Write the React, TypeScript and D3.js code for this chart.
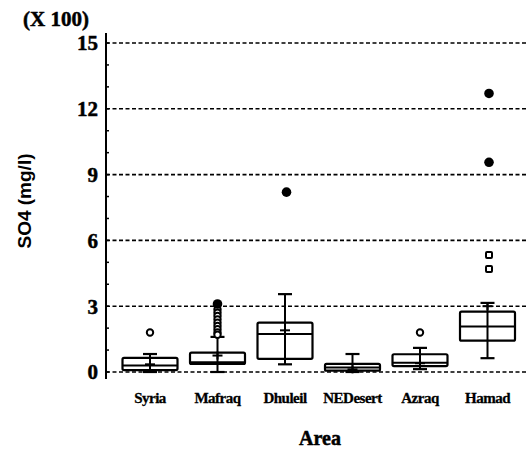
import React from "react";
import * as d3 from "d3";

const categories = ["Syria", "Mafraq", "Dhuleil", "NEDesert", "Azraq", "Hamad"];
const whiskerLow = [0.0, 0.0, 0.35, 0.0, 0.13, 0.63];
const q1 = [0.09, 0.37, 0.6, 0.06, 0.27, 1.43];
const median = [0.3, 0.45, 1.73, 0.2, 0.42, 2.07];
const q3 = [0.64, 0.88, 2.25, 0.37, 0.81, 2.75];
const whiskerHigh = [0.82, 1.6, 3.55, 0.82, 1.1, 3.15];
const means = [0.35, 0.75, 1.9, 0.12, 0.4, 3.0];
const openOutliers = [
  [1.8],
  [2.85, 2.7, 2.55, 2.4, 2.25, 2.1, 1.95, 1.8, 1.7],
  [],
  [],
  [1.8],
  [5.34, 4.7],
];
const farOutliers = [[], [3.1], [8.2], [], [], [12.7, 9.56]];
const yTicks = [0, 3, 6, 9, 12, 15];

const W = 528;
const H = 449;
const axisX = 106;

export default function App() {
  const y = d3.scaleLinear().domain([0, 15]).range([372, 43]);
  const x2 = d3.scalePoint().domain(categories).range([150, 487.5]);
  const bw = 55;
  const minor = d3.range(0, 16, 1);
  const serif = "'Liberation Serif', 'Times New Roman', serif";
  const sans = "'Liberation Sans', Arial, sans-serif";
  const heavy = { stroke: "#000", strokeWidth: 0.5 };
  return (
    <svg width={W} height={H} style={{ position: "absolute", left: 0, top: 0, background: "#fff" }}>
      <rect width={W} height={H} fill="#fff" />
      {yTicks.map((t) => (
        <line key={"g" + t} x1={axisX} x2={W} y1={y(t)} y2={y(t)} stroke="#000" strokeWidth={1.6} strokeDasharray="4,2.5" />
      ))}
      <line x1={axisX} x2={axisX} y1={33} y2={379} stroke="#000" strokeWidth={2} />
      {minor.map((t) => (
        <line key={"m" + t} x1={axisX} x2={axisX + 3} y1={y(t)} y2={y(t)} stroke="#000" strokeWidth={1.5} />
      ))}
      {yTicks.map((t) => (
        <text key={"t" + t} x={98} y={y(t)} dy="0.35em" textAnchor="end" fontFamily={serif} fontWeight="bold" fontSize={21} {...heavy}>
          {t}
        </text>
      ))}
      <text x={23} y={26} fontFamily={serif} fontWeight="bold" fontSize={21} {...heavy}>(X 100)</text>
      <text transform={`translate(31,201) rotate(-90)`} textAnchor="middle" fontFamily={sans} fontWeight="bold" fontSize={19}>
        SO4 (mg/l)
      </text>
      {categories.map((c, i) => {
        const cx = x2(c) as number;
        return (
          <g key={c}>
            <line x1={cx} x2={cx} y1={y(whiskerLow[i])} y2={y(whiskerHigh[i])} stroke="#000" strokeWidth={2} />
            <rect x={cx - bw / 2} y={y(q3[i])} width={bw} height={y(q1[i]) - y(q3[i])} fill="#fff" stroke="#000" strokeWidth={2.2} rx={1.5} />
            <line x1={cx} x2={cx} y1={y(q1[i])} y2={y(q3[i])} stroke="#000" strokeWidth={2} />
            <line x1={cx - bw / 2} x2={cx + bw / 2} y1={y(median[i])} y2={y(median[i])} stroke="#000" strokeWidth={2} />
            <line x1={cx - 7} x2={cx + 7} y1={y(whiskerHigh[i])} y2={y(whiskerHigh[i])} stroke="#000" strokeWidth={2.2} />
            <line x1={cx - 7} x2={cx + 7} y1={y(whiskerLow[i])} y2={y(whiskerLow[i])} stroke="#000" strokeWidth={2.2} />
            <line x1={cx - 5} x2={cx + 5} y1={y(means[i])} y2={y(means[i])} stroke="#000" strokeWidth={2} />
            <line x1={cx} x2={cx} y1={y(means[i]) - 4} y2={y(means[i]) + 4} stroke="#000" strokeWidth={2} />
            {openOutliers[i].map((v, j) =>
              c === "Hamad" ? (
                <rect key={j} x={cx + 1.5 - 3} y={y(v) - 3} width={6} height={6} rx={1} fill="#fff" stroke="#000" strokeWidth={2} />
              ) : (
                <circle key={j} cx={cx} cy={y(v)} r={3.2} fill="#fff" stroke="#000" strokeWidth={2} />
              )
            )}
            {farOutliers[i].map((v, j) => (
              <circle key={"f" + j} cx={cx + (c === "Mafraq" ? 0 : 1.5)} cy={y(v)} r={4.8} fill="#000" />
            ))}
            <text x={cx} y={403} textAnchor="middle" fontFamily={serif} fontWeight="bold" fontSize={15} letterSpacing={-0.5} {...heavy} strokeWidth={0.3}>
              {c}
            </text>
          </g>
        );
      })}
      <text x={320} y={445} textAnchor="middle" fontFamily={serif} fontWeight="bold" fontSize={20} {...heavy}>Area</text>
    </svg>
  );
}
